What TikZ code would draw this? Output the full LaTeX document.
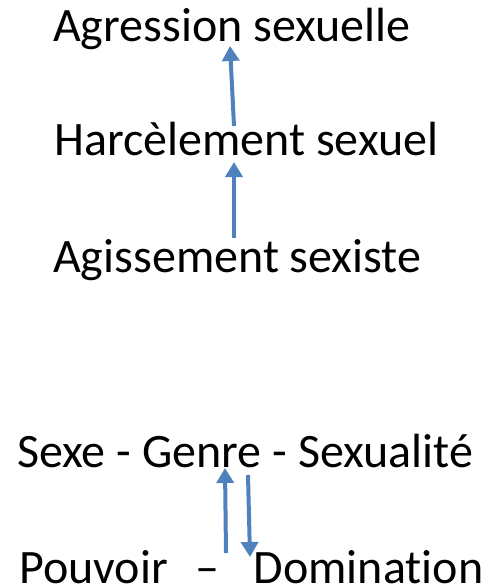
\documentclass[tikz,border=0pt]{standalone}
\usepackage{fontspec}
\setmainfont[Ligatures=NoCommon]{Carlito}
\usetikzlibrary{arrows.meta}
\definecolor{arrowblue}{HTML}{4F81BD}
\tikzset{
  lbl/.style={anchor=base west, inner sep=0pt, font=\fontsize{48}{57}\selectfont, text=black},
  blarrow/.style={draw=arrowblue, line width=4pt, -{Triangle[width=17pt,length=15pt]}}
}
\begin{document}
\begin{tikzpicture}[x=1pt,y=1pt]
\useasboundingbox (0,0) rectangle (489,-588);
\node[lbl] (agr) at (53,-42) {Agression sexuelle};
\node[lbl] (har) at (54,-156) {Harcèlement sexuel};
\node[lbl] (agi) at (53,-272) {Agissement sexiste};
\node[lbl] (sgs) at (17,-467) {Sexe - Genre - Sexualité};
\node[lbl] (pd) at (19,-583) {Pouvoir\hspace{28pt}–\hspace{34pt}Domination};
\coordinate (a1s) at (234,-126);
\coordinate (a1e) at (230,-46);
\coordinate (a2s) at (234,-238);
\coordinate (a2e) at (234,-162);
\coordinate (a3s) at (226,-553);
\coordinate (a3e) at (225,-468);
\coordinate (a4s) at (248,-475);
\coordinate (a4e) at (250,-557);
\draw[blarrow] (a1s) -- (a1e);
\draw[blarrow] (a2s) -- (a2e);
\draw[blarrow] (a3s) -- (a3e);
\draw[blarrow] (a4s) -- (a4e);
\end{tikzpicture}
\end{document}
